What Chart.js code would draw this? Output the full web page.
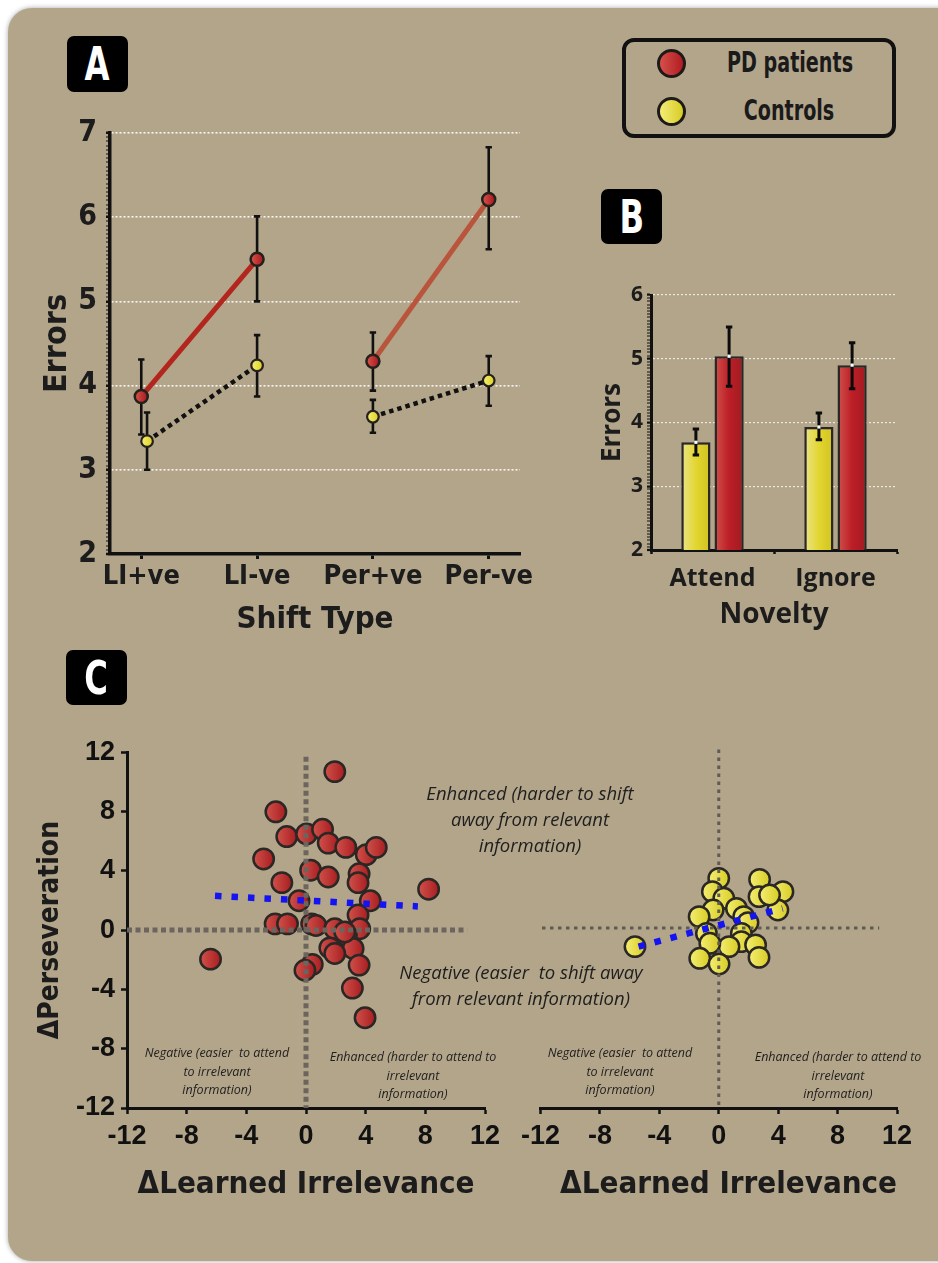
<!DOCTYPE html>
<html><head><meta charset="utf-8">
<script src="https://cdn.jsdelivr.net/npm/chart.js@4.4.1/dist/chart.umd.min.js"></script>
<style>
html,body{margin:0;padding:0;background:#fff;width:938px;height:1263px;overflow:hidden;position:relative;}
#panel{position:absolute;left:8px;top:8px;width:990px;height:1253px;background:#b3a58a;border-radius:24px;box-shadow:0 0 5px rgba(0,0,0,0.35);}
canvas{position:absolute;}
.tag{position:absolute;background:#000;color:#fff;border-radius:7px;display:flex;align-items:center;justify-content:center;}
.tag span{font-family:"DejaVu Sans Condensed",sans-serif;font-weight:bold;font-size:46px;line-height:1;display:inline-block;transform:scaleX(0.78);}
#legend{position:absolute;left:622px;top:38px;width:274px;height:100px;box-sizing:border-box;border:4px solid #111;border-radius:12px;}
.ldot{position:absolute;width:29px;height:29px;box-sizing:border-box;border:3px solid #1d1a17;border-radius:50%;}
.ltxt{position:absolute;font-family:"DejaVu Sans Condensed",sans-serif;font-weight:bold;font-size:28px;color:#1a1a1a;text-align:center;width:200px;line-height:30px;white-space:nowrap;transform:scaleX(0.76);}
.ann{position:absolute;font-family:"Open Sans",sans-serif;font-style:italic;color:#1e1e1e;text-align:center;white-space:pre;}
.big{font-size:18.5px;line-height:26px;width:320px;}
.small{font-size:12.5px;line-height:18.5px;width:210px;}
</style></head>
<body>
<div id="panel"></div>
<canvas id="cA" width="545" height="560" style="left:0;top:100px"></canvas>
<canvas id="cB" width="330" height="380" style="left:590px;top:270px"></canvas>
<canvas id="cC1" width="510" height="500" style="left:0;top:730px"></canvas>
<canvas id="cC2" width="423" height="500" style="left:515px;top:730px"></canvas>

<div class="tag" style="left:67px;top:36px;width:61px;height:56px;"><span>A</span></div>
<div class="tag" style="left:601px;top:189px;width:61px;height:55px;"><span>B</span></div>
<div class="tag" style="left:66px;top:650px;width:61px;height:55px;"><span>C</span></div>

<div id="legend">
  <div class="ldot" style="left:31px;top:7px;background:linear-gradient(90deg,#d6504a,#b01c22);"></div>
  <div class="ldot" style="left:31px;top:55px;background:linear-gradient(90deg,#f3ec78,#d8cc25);"></div>
  <div class="ltxt" style="left:64px;top:6px;">PD patients</div>
  <div class="ltxt" style="left:63px;top:54px;">Controls</div>
</div>

<div class="ann big" style="left:370px;top:780px;">Enhanced (harder to shift
away from relevant
information)</div>
<div class="ann big" style="left:361px;top:959px;">Negative (easier  to shift away
from relevant information)</div>
<div class="ann small" style="left:112px;top:1044px;">Negative (easier  to attend
to irrelevant
information)</div>
<div class="ann small" style="left:308px;top:1048px;">Enhanced (harder to attend to
irrelevant
information)</div>
<div class="ann small" style="left:515px;top:1044px;">Negative (easier  to attend
to irrelevant
information)</div>
<div class="ann small" style="left:733px;top:1048px;">Enhanced (harder to attend to
irrelevant
information)</div>

<script>
// ---------- DATA ----------
// Panel A: errors by shift type
const shiftTypes = ['LI+ve', 'LI-ve', 'Per+ve', 'Per-ve'];
const pdShiftX = [0, 1, 2, 3];
const ctShiftX = [0.05, 1, 2, 3];
const pdShiftMean = [3.87, 5.50, 4.29, 6.21];
const pdShiftLow  = [3.42, 5.00, 3.94, 5.62];
const pdShiftHigh = [4.31, 6.01, 4.63, 6.83];
const ctShiftMean = [3.34, 4.24, 3.63, 4.06];
const ctShiftLow  = [3.00, 3.87, 3.44, 3.76];
const ctShiftHigh = [3.68, 4.60, 3.83, 4.35];

// Panel B: errors by novelty
const noveltyTypes = ['Attend', 'Ignore'];
const ctNoveltyMean = [3.69, 3.93];
const ctNoveltyLow  = [3.49, 3.73];
const ctNoveltyHigh = [3.90, 4.15];
const pdNoveltyMean = [5.04, 4.90];
const pdNoveltyLow  = [4.57, 4.53];
const pdNoveltyHigh = [5.50, 5.25];

// Panel C: change scores (Learned Irrelevance x, Perseveration y)
const pdLI  = [1.93,-2.02,-1.29,0.04,1.11,1.49,2.67,4.04,4.71,-2.84,0.31,1.49,3.56,3.49,-1.62,8.22,-0.47,4.31,3.49,-2.07,-1.24,0.38,0.67,1.93,3.60,2.71,1.60,3.16,1.93,2.60,-6.40,0.42,-0.07,3.56,3.11,3.96];
const pdPer = [10.69,7.98,6.31,6.49,6.80,5.87,5.58,5.09,5.58,4.80,4.04,3.58,3.80,3.20,3.20,2.76,1.98,1.98,1.02,0.42,0.42,0.42,0.31,0.09,0.09,-0.36,-1.20,-1.24,-1.58,-0.13,-1.96,-2.31,-2.71,-2.36,-3.91,-5.91];
const ctLI  = [0.00,2.75,4.32,-0.43,0.34,1.19,2.71,3.98,-0.38,-1.32,1.68,1.97,-0.83,1.52,1.52,2.48,0.69,-0.60,-1.28,0.02,2.71,-5.64,3.42];
const ctPer = [3.31,3.24,2.42,2.42,1.98,1.31,2.09,1.20,1.20,0.76,0.76,0.36,-0.36,-0.36,-0.91,-1.13,-1.24,-1.02,-2.02,-2.40,-1.96,-1.24,2.20];
const pdTrendX = [-6.1, 7.5];
const pdTrendY = [2.31, 1.60];
const ctTrendX = [-5.4, 4.3];
const ctTrendY = [-1.24, 1.31];
const deltaTicks = [-12, -8, -4, 0, 4, 8, 12];
const refHLeftX = [-12, 10.8], refVLeftY = [11.7, -12];
const refHRightX = [-11.9, 10.8], refVRightY = [11.9, -12];

// ---------- STYLE HELPERS ----------
const COND = '"DejaVu Sans Condensed",sans-serif';
const OPEN = '"Open Sans",sans-serif';
const ARIAL = '"Liberation Sans",Arial,sans-serif';
const INK = '#1c1c1c';
const isMajor = v => Math.abs(v - Math.round(v)) < 1e-6;
const pts = (xs, ys) => xs.map((x, i) => ({x: x, y: ys[i]}));

const errorBars = {
  id: 'errorBars',
  beforeDatasetsDraw(chart, args, o) { if (!o.after) drawErr(chart, o); },
  afterDatasetsDraw(chart, args, o) { if (o.after) drawErr(chart, o); }
};
function drawErr(chart, o) {
  const ctx = chart.ctx, ys = chart.scales.y;
  chart.data.datasets.forEach((ds, di) => {
    if (!ds.errLow) return;
    chart.getDatasetMeta(di).data.forEach((el, i) => {
      const x = el.x, yl = ys.getPixelForValue(ds.errLow[i]), yh = ys.getPixelForValue(ds.errHigh[i]);
      ctx.save();
      ctx.strokeStyle = o.color || '#111';
      ctx.lineWidth = o.width || 2.5;
      ctx.beginPath();
      ctx.moveTo(x, yl); ctx.lineTo(x, yh);
      ctx.moveTo(x - o.cap, yl); ctx.lineTo(x + o.cap, yl);
      ctx.moveTo(x - o.cap, yh); ctx.lineTo(x + o.cap, yh);
      ctx.stroke();
      if (o.dot) { ctx.fillStyle = '#fff'; ctx.fillRect(x - 1.6, el.y - 1.6, 3.2, 3.2); }
      ctx.restore();
    });
  });
}
const shade = {
  id: 'shade',
  beforeDatasetsDraw(chart) {
    const c = chart.ctx;
    chart.data.datasets.forEach((ds, di) => {
      if (!ds.shade) return;
      const meta = chart.getDatasetMeta(di);
      meta.data.forEach(el => {
        let x0, x1;
        if (meta.type === 'bar') { x0 = el.x - el.width / 2; x1 = el.x + el.width / 2; }
        else { const r = el.options.radius; x0 = el.x - r; x1 = el.x + r; }
        if (!isFinite(x0) || !isFinite(x1)) return;
        const g = c.createLinearGradient(x0, 0, x1, 0);
        ds.shade.forEach((col, k) => g.addColorStop(k / (ds.shade.length - 1), col));
        el.options = Object.assign({}, el.options, {backgroundColor: g});
      });
    });
  }
};
Chart.register(errorBars, shade);

const base = {responsive: false, animation: false, events: []};

// ---------- PANEL A ----------
new Chart(document.getElementById('cA'), {
  type: 'line',
  data: {datasets: [
    {label: 'PD patients', data: pts(pdShiftX, pdShiftMean), errLow: pdShiftLow, errHigh: pdShiftHigh,
     borderColor: '#b3261e', borderWidth: 5,
     segment: {borderColor: s => s.p0DataIndex === 1 ? 'rgba(0,0,0,0)' : (s.p0DataIndex === 2 ? '#b9553c' : '#b3261e')},
     pointRadius: 6.5, pointBorderWidth: 2.5, pointBorderColor: '#24201c', pointBackgroundColor: '#c0282c',
     shade: ['#d8554c', '#a8161c'], order: 1},
    {label: 'Controls', data: pts(ctShiftX, ctShiftMean), errLow: ctShiftLow, errHigh: ctShiftHigh,
     borderColor: '#111', borderWidth: 4.5, borderDash: [4.5, 4],
     segment: {borderColor: s => s.p0DataIndex === 1 ? 'rgba(0,0,0,0)' : undefined},
     pointRadius: 5.8, pointBorderWidth: 2.2, pointBorderColor: '#24201c', pointBackgroundColor: '#e8e03a',
     shade: ['#f6f07a', '#dcd020'], order: 2}
  ]},
  options: Object.assign({}, base, {
    layout: {padding: {top: 33, right: 25, left: 0, bottom: 0}},
    plugins: {legend: {display: false}, tooltip: {enabled: false}, errorBars: {after: false, cap: 3.2, width: 2.6, color: '#111'}},
    scales: {
      x: {type: 'linear', min: -0.27, max: 3.27,
          afterBuildTicks: s => { s.ticks = shiftTypes.map((_, i) => ({value: i})); },
          afterFit: s => { s.height = 106; },
          grid: {drawOnChartArea: false, tickLength: 5, tickWidth: 3, tickColor: '#111'},
          border: {color: '#111', width: 3.5},
          ticks: {padding: 2, maxRotation: 0, autoSkip: false, color: INK, font: {family: COND, size: 27, weight: 'bold'},
                  callback: v => shiftTypes[v] !== undefined ? shiftTypes[v] : ''},
          title: {display: true, text: 'Shift Type', color: INK, font: {family: COND, size: 31, weight: 'bold'}, padding: {top: 0, bottom: 21}}},
      y: {min: 2, max: 7,
          afterBuildTicks: s => { const t = []; for (let k = 0; k <= 100; k++) t.push({value: Math.round((2 + k * 0.05) * 100) / 100}); s.ticks = t; },
          afterFit: s => { s.width = 110; },
          grid: {color: c => (isMajor(c.tick.value) && c.tick.value > 2.01) ? 'rgba(255,255,255,0.9)' : 'rgba(0,0,0,0)',
                 lineWidth: c => (isMajor(c.tick.value) && c.tick.value > 2.01) ? 1.6 : 0,
                 tickLength: 4, tickColor: '#111', tickWidth: c => isMajor(c.tick.value) ? 2.5 : 1.1},
          border: {color: '#111', width: 3.5, dash: [2, 2]},
          ticks: {autoSkip: false, padding: 9, color: INK, font: {family: COND, size: 30, weight: 'bold'},
                  callback: v => isMajor(v) ? String(Math.round(v)) : ''},
          title: {display: true, text: 'Errors', color: INK, font: {family: COND, size: 32, weight: 'bold'}, padding: {top: 38, bottom: 0}}}
    }
  })
});

// ---------- PANEL B ----------
new Chart(document.getElementById('cB'), {
  type: 'bar',
  data: {labels: noveltyTypes, datasets: [
    {label: 'Controls', data: ctNoveltyMean, errLow: ctNoveltyLow, errHigh: ctNoveltyHigh,
     backgroundColor: '#e2d630', borderColor: '#2a2826', borderWidth: 2.5, borderSkipped: false,
     barPercentage: 0.88, categoryPercentage: 0.54, shade: ['#ebe48a', '#e2d630', '#d2c220']},
    {label: 'PD patients', data: pdNoveltyMean, errLow: pdNoveltyLow, errHigh: pdNoveltyHigh,
     backgroundColor: '#be1f27', borderColor: '#2a2826', borderWidth: 2.5, borderSkipped: false,
     barPercentage: 0.88, categoryPercentage: 0.54, shade: ['#cf524b', '#bd1e27', '#a11a21']}
  ]},
  options: Object.assign({}, base, {
    layout: {padding: {top: 25, right: 23, left: 0, bottom: 0}},
    plugins: {legend: {display: false}, tooltip: {enabled: false}, errorBars: {after: true, cap: 3.2, width: 3, color: '#0c0c0c', dot: true}},
    scales: {
      x: {afterFit: s => { s.height = 100; },
          grid: {drawOnChartArea: false, tickLength: 4, tickWidth: 2.5, tickColor: '#111'},
          border: {color: '#111', width: 3},
          ticks: {padding: 10, maxRotation: 0, color: INK, font: {family: OPEN, size: 25, weight: 'bold'}},
          title: {display: true, text: 'Novelty', color: INK, font: {family: OPEN, size: 28, weight: 'bold'}, padding: {top: 0, bottom: 18}}},
      y: {min: 2, max: 6,
          afterBuildTicks: s => { const t = []; for (let k = 0; k <= 80; k++) t.push({value: Math.round((2 + k * 0.05) * 100) / 100}); s.ticks = t; },
          afterFit: s => { s.width = 61; },
          grid: {color: c => (isMajor(c.tick.value) && c.tick.value > 2.01) ? 'rgba(255,255,255,0.75)' : 'rgba(0,0,0,0)',
                 lineWidth: c => (isMajor(c.tick.value) && c.tick.value > 2.01) ? 1.2 : 0,
                 tickLength: 4, tickColor: '#111', tickWidth: c => isMajor(c.tick.value) ? 2.2 : 1},
          border: {color: '#111', width: 3, dash: [2, 2]},
          ticks: {autoSkip: false, padding: 4, color: INK, font: {family: OPEN, size: 21, weight: 'bold'},
                  callback: v => isMajor(v) ? String(Math.round(v)) : ''},
          title: {display: true, text: 'Errors', color: INK, font: {family: OPEN, size: 26, weight: 'bold'}, padding: {top: 7, bottom: 0}}}
    }
  })
});

// ---------- PANEL C ----------
function scatterCfg(opts) {
  return {
    type: 'scatter',
    data: {datasets: [
      {label: 'fit', data: pts(opts.trendX, opts.trendY), showLine: true, borderColor: '#1414f2', borderWidth: 6.5,
       borderDash: [6.5, 10], pointRadius: 0, order: 1},
      {label: 'ref0x', data: pts(opts.refHX, [0, 0]), showLine: true, borderColor: opts.refColor, borderWidth: opts.refW,
       borderDash: opts.refDash, pointRadius: 0, order: 2},
      {label: 'ref0y', data: pts([0, 0], opts.refVY), showLine: true, borderColor: opts.refColor, borderWidth: opts.refW,
       borderDash: opts.refDash, pointRadius: 0, order: 2},
      {label: opts.name, data: pts(opts.xs, opts.ys), pointRadius: 10.2, pointBorderWidth: 2.5, pointBorderColor: '#2a2724',
       pointBackgroundColor: opts.fill, shade: opts.shade, order: 3}
    ]},
    options: Object.assign({}, base, {
      layout: {padding: opts.padding},
      plugins: {legend: {display: false}, tooltip: {enabled: false}},
      scales: {
        x: {type: 'linear', min: -12, max: 12,
            afterBuildTicks: s => { s.ticks = deltaTicks.map(v => ({value: v})); },
            afterFit: s => { s.height = 122; },
            grid: {drawOnChartArea: false, tickLength: 6, tickWidth: 2.5, tickColor: '#111'},
            border: {color: '#111', width: 3},
            ticks: {padding: 6, maxRotation: 0, autoSkip: false, color: '#111', font: {family: ARIAL, size: 27, weight: 'bold'}},
            title: {display: true, align: opts.titleAlign, text: '\u0394Learned Irrelevance', color: INK, font: {family: COND, size: 31, weight: 'bold'}, padding: {top: 0, bottom: 26}}},
        y: {type: 'linear', min: -12, max: 12, display: opts.showY,
            afterBuildTicks: s => { s.ticks = deltaTicks.map(v => ({value: v})); },
            afterFit: s => { if (opts.showY) s.width = 127; },
            grid: {drawOnChartArea: false, tickLength: 6, tickWidth: 2.5, tickColor: '#111'},
            border: {color: '#111', width: 3},
            ticks: {padding: 6, autoSkip: false, color: '#111', font: {family: ARIAL, size: 27, weight: 'bold'}},
            title: {display: true, text: '\u0394Perseveration', color: INK, font: {family: COND, size: 28, weight: 'bold'}, padding: {top: 34, bottom: 0}}}
      }
    })
  };
}
new Chart(document.getElementById('cC1'), scatterCfg({
  name: 'PD patients', xs: pdLI, ys: pdPer, trendX: pdTrendX, trendY: pdTrendY,
  refHX: refHLeftX, refVY: refVLeftY, refColor: '#6b655d', refW: 5, refDash: [5, 3.5],
  fill: '#c0302f', shade: ['#d0524b', '#a81d20'], showY: true, titleAlign: 'center',
  padding: {top: 18, right: 25, left: 0, bottom: 0}
}));
new Chart(document.getElementById('cC2'), scatterCfg({
  name: 'Controls', xs: ctLI, ys: ctPer, trendX: ctTrendX, trendY: ctTrendY,
  refHX: refHRightX, refVY: refVRightY, refColor: '#5e5a55', refW: 3, refDash: [3.5, 4.5],
  fill: '#e8e03a', shade: ['#f4ee74', '#d8cc22'], showY: false, titleAlign: 'end',
  padding: {top: 18, right: 41, left: 25, bottom: 0}
}));
</script>
</body></html>
